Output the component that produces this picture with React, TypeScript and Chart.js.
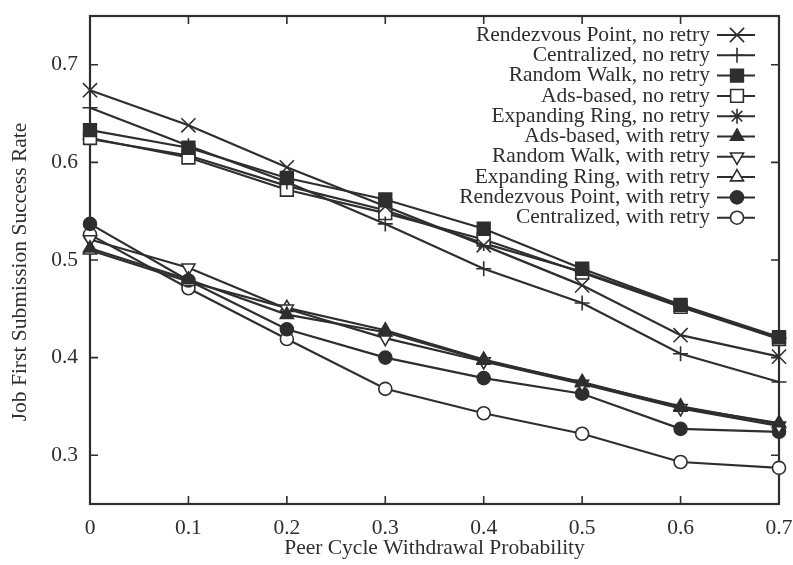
import React, { useEffect, useRef } from 'react';
import { Chart, registerables } from 'chart.js';

Chart.register(...registerables);

// ---- data ----
const xLabels = ['0', '0.1', '0.2', '0.3', '0.4', '0.5', '0.6', '0.7'];
const yTickValues = [0.3, 0.4, 0.5, 0.6, 0.7];

const rendezvousNoRetry = [0.674, 0.638, 0.595, 0.555, 0.515, 0.474, 0.423, 0.401];
const centralizedNoRetry = [0.656, 0.617, 0.580, 0.537, 0.491, 0.456, 0.404, 0.375];
const randomWalkNoRetry = [0.633, 0.615, 0.584, 0.562, 0.532, 0.491, 0.454, 0.421];
const adsNoRetry = [0.625, 0.605, 0.572, 0.548, 0.521, 0.487, 0.452, 0.419];
const expandingNoRetry = [0.624, 0.607, 0.576, 0.551, 0.517, 0.488, 0.453, 0.420];
const adsWithRetry = [0.512, 0.480, 0.444, 0.426, 0.397, 0.375, 0.349, 0.333];
const randomWalkWithRetry = [0.521, 0.492, 0.450, 0.420, 0.396, 0.373, 0.348, 0.330];
const expandingWithRetry = [0.510, 0.478, 0.451, 0.428, 0.398, 0.374, 0.350, 0.332];
const rendezvousWithRetry = [0.537, 0.479, 0.429, 0.400, 0.379, 0.363, 0.327, 0.324];
const centralizedWithRetry = [0.526, 0.471, 0.419, 0.368, 0.343, 0.322, 0.293, 0.287];

const xTitle = 'Peer Cycle Withdrawal Probability';
const yTitle = 'Job First Submission Success Rate';

// ---- styles ----
const ink = '#2e2e2e';
const fontFamily = '"Liberation Serif", "Times New Roman", serif';
const fontSize = 21.5;

type Series = {
  label: string;
  data: number[];
  style: string;
  radius: number;
  filled: boolean;
  rotation: number;
};

const series: Series[] = [
  { label: 'Rendezvous Point, no retry', data: rendezvousNoRetry, style: 'crossRot', radius: 10, filled: false, rotation: 0 },
  { label: 'Centralized, no retry', data: centralizedNoRetry, style: 'cross', radius: 7.5, filled: false, rotation: 0 },
  { label: 'Random Walk, no retry', data: randomWalkNoRetry, style: 'rect', radius: 9, filled: true, rotation: 0 },
  { label: 'Ads-based, no retry', data: adsNoRetry, style: 'rect', radius: 9, filled: false, rotation: 0 },
  { label: 'Expanding Ring, no retry', data: expandingNoRetry, style: 'star', radius: 7.5, filled: false, rotation: 0 },
  { label: 'Ads-based, with retry', data: adsWithRetry, style: 'triangle', radius: 7.5, filled: true, rotation: 0 },
  { label: 'Random Walk, with retry', data: randomWalkWithRetry, style: 'triangle', radius: 7.5, filled: false, rotation: 180 },
  { label: 'Expanding Ring, with retry', data: expandingWithRetry, style: 'triangle', radius: 7.5, filled: false, rotation: 0 },
  { label: 'Rendezvous Point, with retry', data: rendezvousWithRetry, style: 'circle', radius: 6.5, filled: true, rotation: 0 },
  { label: 'Centralized, with retry', data: centralizedWithRetry, style: 'circle', radius: 6.5, filled: false, rotation: 0 },
];

function drawMarker(ctx: CanvasRenderingContext2D, s: Series, x: number, y: number) {
  const r = s.radius;
  const rot = (s.rotation * Math.PI) / 180;
  ctx.save();
  ctx.strokeStyle = ink;
  ctx.fillStyle = s.filled ? ink : '#ffffff';
  ctx.lineWidth = 1.6;
  ctx.beginPath();
  if (s.style === 'circle') {
    ctx.arc(x, y, r, 0, Math.PI * 2);
    ctx.closePath();
    ctx.fill();
    ctx.stroke();
  } else if (s.style === 'rect') {
    const h = r * Math.SQRT1_2;
    ctx.rect(x - h, y - h, 2 * h, 2 * h);
    ctx.fill();
    ctx.stroke();
  } else if (s.style === 'triangle') {
    let a = rot;
    ctx.moveTo(x + Math.sin(a) * r, y - Math.cos(a) * r);
    a += (2 * Math.PI) / 3;
    ctx.lineTo(x + Math.sin(a) * r, y - Math.cos(a) * r);
    a += (2 * Math.PI) / 3;
    ctx.lineTo(x + Math.sin(a) * r, y - Math.cos(a) * r);
    ctx.closePath();
    ctx.fill();
    ctx.stroke();
  } else {
    const arms = (base: number) => {
      const dx = Math.cos(base) * r;
      const dy = Math.sin(base) * r;
      ctx.moveTo(x - dx, y - dy);
      ctx.lineTo(x + dx, y + dy);
      ctx.moveTo(x - dy, y + dx);
      ctx.lineTo(x + dy, y - dx);
    };
    if (s.style === 'cross' || s.style === 'star') arms(0);
    if (s.style === 'crossRot' || s.style === 'star') arms(Math.PI / 4);
    ctx.stroke();
  }
  ctx.restore();
}

const framePlugin = {
  id: 'gnuplotFrame',
  beforeDatasetsDraw(chart: any) {
    const { ctx, chartArea: a, scales } = chart;
    ctx.save();
    ctx.strokeStyle = ink;
    ctx.lineWidth = 2.2;
    ctx.strokeRect(a.left, a.top, a.right - a.left, a.bottom - a.top);
    ctx.lineWidth = 1.6;
    const t = 8;
    ctx.beginPath();
    yTickValues.forEach((v) => {
      const y = scales.y.getPixelForValue(v);
      ctx.moveTo(a.left, y);
      ctx.lineTo(a.left + t, y);
      ctx.moveTo(a.right, y);
      ctx.lineTo(a.right - t, y);
    });
    xLabels.forEach((_, i) => {
      const x = scales.x.getPixelForValue(i);
      ctx.moveTo(x, a.bottom);
      ctx.lineTo(x, a.bottom - t);
      ctx.moveTo(x, a.top);
      ctx.lineTo(x, a.top + t);
    });
    ctx.stroke();
    ctx.restore();
  },
};

const textPlugin = {
  id: 'gnuplotText',
  afterDraw(chart: any) {
    const { ctx, chartArea: a } = chart;
    ctx.save();
    ctx.fillStyle = ink;
    ctx.font = `${fontSize}px ${fontFamily}`;
    // axis titles
    ctx.textAlign = 'center';
    ctx.textBaseline = 'middle';
    ctx.fillText(xTitle, (a.left + a.right) / 2, 548);
    ctx.save();
    ctx.translate(20, 272);
    ctx.rotate(-Math.PI / 2);
    ctx.fillText(yTitle, 0, 0);
    ctx.restore();
    // legend (gnuplot style: right-aligned text, sample on the right)
    ctx.textAlign = 'right';
    series.forEach((s, i) => {
      const y = 35 + i * 20.3;
      ctx.fillStyle = ink;
      ctx.fillText(s.label, 710, y);
      ctx.strokeStyle = ink;
      ctx.lineWidth = 2;
      ctx.beginPath();
      ctx.moveTo(717, y);
      ctx.lineTo(755, y);
      ctx.stroke();
      drawMarker(ctx, s, 737, y);
    });
    ctx.restore();
  },
};

const zeroPadding = (s: any) => {
  s.paddingLeft = 0;
  s.paddingRight = 0;
  s.paddingTop = 0;
  s.paddingBottom = 0;
};

export default function App() {
  const ref = useRef<HTMLCanvasElement>(null);

  useEffect(() => {
    if (!ref.current) return;
    const chart = new Chart(ref.current, {
      type: 'line',
      data: {
        labels: xLabels,
        datasets: series.map((s) => ({
          label: s.label,
          data: s.data,
          borderColor: ink,
          borderWidth: 2.2,
          tension: 0,
          fill: false,
          clip: false as any,
          pointStyle: s.style as any,
          pointRadius: s.radius,
          pointHoverRadius: s.radius,
          pointRotation: s.rotation,
          pointBorderColor: ink,
          pointBackgroundColor: s.filled ? ink : '#ffffff',
          pointBorderWidth: 1.6,
        })),
      },
      options: {
        animation: false,
        responsive: false,
        devicePixelRatio: 1,
        events: [],
        layout: { padding: { top: 16, right: 14, left: 0, bottom: 0 } },
        plugins: {
          legend: { display: false },
          tooltip: { enabled: false },
        },
        scales: {
          x: {
            type: 'category',
            offset: false,
            grid: { display: false, drawTicks: false },
            border: { display: false },
            ticks: {
              color: ink,
              font: { family: fontFamily, size: fontSize },
              padding: 11,
              maxRotation: 0,
              autoSkip: false,
            },
            afterFit: (s: any) => {
              s.height = 61;
              zeroPadding(s);
            },
          },
          y: {
            type: 'linear',
            min: 0.25,
            max: 0.75,
            grid: { display: false, drawTicks: false },
            border: { display: false },
            afterBuildTicks: (s: any) => {
              s.ticks = yTickValues.map((v) => ({ value: v }));
            },
            ticks: {
              color: ink,
              font: { family: fontFamily, size: fontSize },
              padding: 12,
              callback: (v: any) => Number(v).toFixed(1),
            },
            afterFit: (s: any) => {
              s.width = 90;
              zeroPadding(s);
            },
          },
        },
      },
      plugins: [framePlugin, textPlugin],
    });
    return () => chart.destroy();
  }, []);

  return (
    <div style={{ position: 'absolute', left: 0, top: 0, width: 793, height: 565, background: '#ffffff' }}>
      <canvas ref={ref} width={793} height={565} style={{ display: 'block', width: 793, height: 565 }} />
    </div>
  );
}
